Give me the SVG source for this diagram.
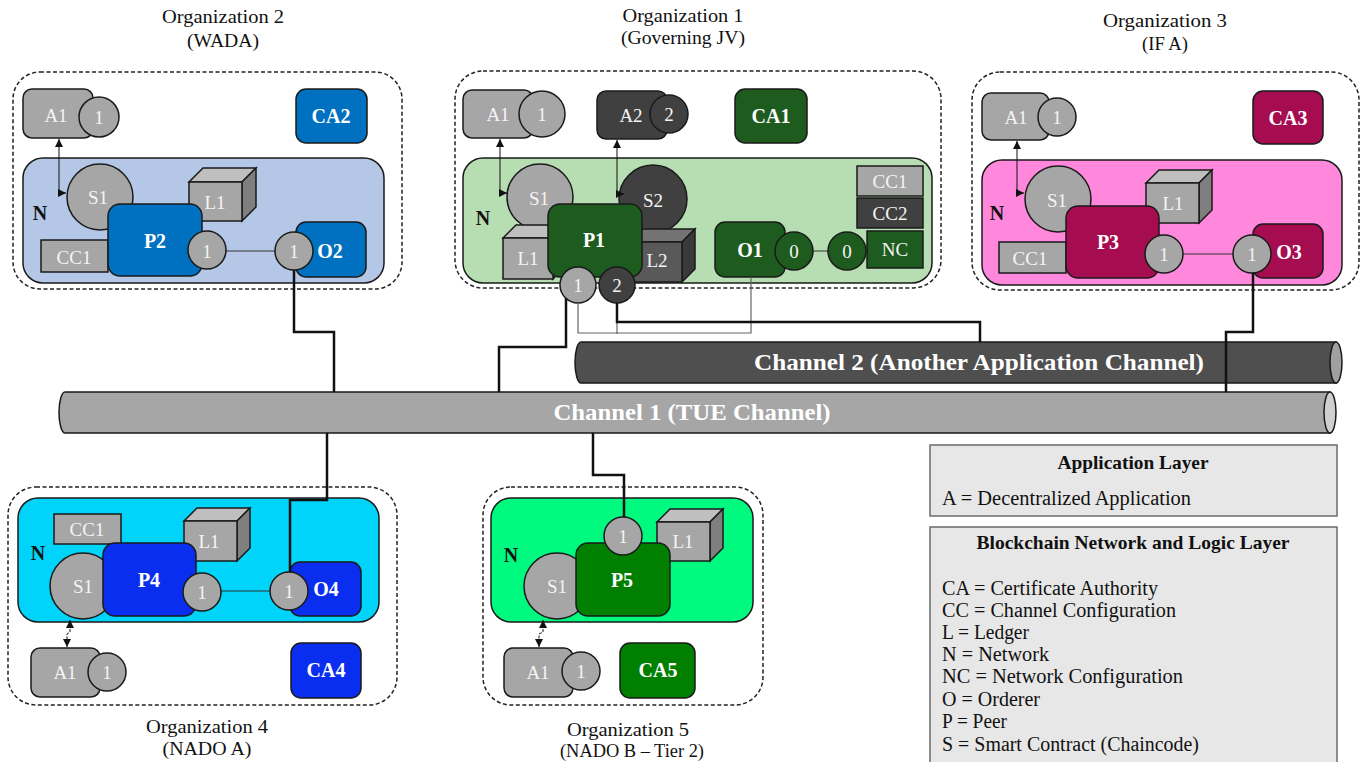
<svg xmlns="http://www.w3.org/2000/svg" width="1363" height="762" viewBox="0 0 1363 762">
<style>
text{font-family:"Liberation Serif","Times New Roman",serif}
.lb{fill:#f4f4f4;font-size:19px;text-anchor:middle;dominant-baseline:central}
.bd{font-weight:bold;font-size:20px;fill:#fff}
.nl{fill:#111;font-size:20px;font-weight:bold;text-anchor:middle;dominant-baseline:central}
.ttl{fill:#111;font-size:19px;text-anchor:middle}
.s{stroke:#1a1a1a;stroke-width:1.5}
.g{fill:#a6a6a6;stroke:#1a1a1a;stroke-width:1.5}
.gt{fill:#bfbfbf;stroke:#1a1a1a;stroke-width:1.5}
.gs{fill:#7f7f7f;stroke:#1a1a1a;stroke-width:1.5}
.dg{fill:#404040;stroke:#1a1a1a;stroke-width:1.5}
.out{fill:#fff;stroke:#222;stroke-width:1.5;stroke-dasharray:4 2.5}
.link{fill:none;stroke:#333;stroke-width:1}
.arr{fill:none;stroke:#111;stroke-width:1;marker-start:url(#ah);marker-end:url(#ah)}
.conn{fill:none;stroke:#111;stroke-width:2.5}
.thin{fill:none;stroke:#666;stroke-width:1.2}
.leg{fill:#e7e7e7;stroke:#6b6b6b;stroke-width:1.5}
.lt{fill:#111;font-size:20px}
.lh{fill:#111;font-size:19px;font-weight:bold;text-anchor:middle}
.ch{fill:#fff;font-size:24px;font-weight:bold;text-anchor:middle;dominant-baseline:central}
</style>
<defs>
<marker id="ah" viewBox="0 0 10 10" refX="10" refY="5" markerWidth="8" markerHeight="8" markerUnits="userSpaceOnUse" orient="auto-start-reverse">
<path d="M0,0 L10,5 L0,10 z" fill="#111"/>
</marker>
</defs>
<rect width="1363" height="762" fill="#fff"/>

<g id="channels">
<g id="channel2">
<path d="M581,342 L1336,342 L1336,383 L581,383 A6,20.5 0 0 1 581,342 Z" fill="#4f4f4f" class="s"/>
<ellipse cx="1336" cy="362.5" rx="6" ry="20.5" fill="#a0a0a0" class="s"/>
<text class="ch" x="979" y="362" textLength="450" lengthAdjust="spacingAndGlyphs">Channel 2 (Another Application Channel)</text>
</g>
<g id="channel1">
<path d="M65,392 L1330,392 L1330,433 L65,433 A6,20.5 0 0 1 65,392 Z" fill="#a6a6a6" class="s"/>
<ellipse cx="1330" cy="412.5" rx="6" ry="20.5" fill="#cfcfcf" class="s"/>
<text class="ch" x="692" y="412" textLength="277" lengthAdjust="spacingAndGlyphs">Channel 1 (TUE Channel)</text>
</g>
</g>

<g id="org2">
<text class="ttl" x="223" y="23" textLength="122" lengthAdjust="spacingAndGlyphs">Organization 2</text>
<text class="ttl" x="223" y="47" textLength="72" lengthAdjust="spacingAndGlyphs">(WADA)</text>
<rect class="out" x="13" y="72" width="389" height="217" rx="27"/>
<rect class="s" x="23" y="158" width="361" height="125" rx="20" fill="#b4c7e7"/>
<rect class="g" x="23" y="89" width="70" height="49" rx="9"/>
<circle class="g" cx="99" cy="117" r="20"/>
<text class="lb" x="56" y="115">A1</text><text class="lb" x="99" y="117">1</text>
<rect class="s" x="296" y="89" width="71" height="54" rx="10" fill="#0070c0"/>
<text class="lb bd" x="331" y="116">CA2</text>
<text class="nl" x="40" y="213">N</text>
<circle class="g" cx="100" cy="197" r="33"/><text class="lb" x="98" y="197">S1</text>
<polygon class="gt" points="189,182 203,168 256,168 242,182"/>
<polygon class="gs" points="242,182 256,168 256,207 242,221"/>
<rect class="g" x="189" y="182" width="53" height="39"/><text class="lb" x="215" y="202">L1</text>
<rect class="g" x="41" y="240" width="67" height="32"/><text class="lb" x="74" y="257">CC1</text>
<rect class="s" x="108" y="204" width="94" height="72" rx="12" fill="#0070c0"/>
<text class="lb bd" x="155" y="241">P2</text>
<rect class="s" x="296" y="222" width="70" height="55" rx="10" fill="#0070c0"/>
<text class="lb bd" x="330" y="251">O2</text>
<line class="link" x1="226" y1="251" x2="275" y2="251"/>
<circle class="g" cx="207" cy="250" r="19"/><text class="lb" x="207" y="251">1</text>
<circle class="g" cx="294" cy="251" r="19"/><text class="lb" x="294" y="251">1</text>
<polyline class="arr" points="66,193 59,193 59,139"/>
</g>

<g id="org1">
<text class="ttl" x="683" y="22" textLength="121" lengthAdjust="spacingAndGlyphs">Organization 1</text>
<text class="ttl" x="683" y="44" textLength="124" lengthAdjust="spacingAndGlyphs">(Governing JV)</text>
<rect class="out" x="455" y="71" width="486" height="217" rx="28"/>
<rect class="s" x="463" y="158" width="469" height="125" rx="20" fill="#b7deb3"/>
<rect class="g" x="463" y="90" width="70" height="48" rx="9"/>
<circle class="g" cx="542" cy="114" r="23"/>
<text class="lb" x="498" y="114">A1</text><text class="lb" x="542" y="114">1</text>
<rect class="dg" x="597" y="91" width="70" height="48" rx="9"/>
<circle class="dg" cx="669" cy="114" r="19"/>
<text class="lb" x="631" y="115">A2</text><text class="lb" x="669" y="114">2</text>
<rect class="s" x="735" y="89" width="72" height="54" rx="10" fill="#1e5b1e"/>
<text class="lb bd" x="771" y="116">CA1</text>
<text class="nl" x="483" y="218">N</text>
<circle class="g" cx="540" cy="197" r="33"/><text class="lb" x="539" y="198">S1</text>
<circle class="dg" cx="653" cy="199" r="34"/><text class="lb" x="653" y="200">S2</text>
<polygon class="gt" points="503,238 516,225 566,225 553,238"/>
<polygon class="gs" points="553,238 566,225 566,266 553,279"/>
<rect class="g" x="503" y="238" width="50" height="41"/><text class="lb" x="528" y="258">L1</text>
<polygon fill="#737373" class="s" points="630,242 643,229 695,229 682,242"/>
<polygon fill="#3a3a3a" class="s" points="682,242 695,229 695,269 682,282"/>
<rect fill="#595959" class="s" x="630" y="242" width="52" height="40"/><text class="lb" x="657" y="260">L2</text>
<rect class="s" x="548" y="204" width="94" height="73" rx="12" fill="#1e5b1e"/>
<text class="lb bd" x="594" y="240">P1</text>
<circle class="g" cx="578" cy="285" r="18"/><text class="lb" x="578" y="285">1</text>
<circle class="dg" cx="617" cy="285" r="18"/><text class="lb" x="617" y="285">2</text>
<rect class="s" x="715" y="222" width="70" height="55" rx="10" fill="#1e5b1e"/>
<text class="lb bd" x="750" y="250">O1</text>
<line class="link" x1="812" y1="251" x2="829" y2="251"/>
<circle class="s" cx="794" cy="251" r="19" fill="#1e5b1e"/><text class="lb" x="794" y="251">0</text>
<rect class="s" x="867" y="231" width="56" height="37" fill="#1e5b1e"/><text class="lb" x="895" y="249">NC</text>
<circle class="s" cx="847" cy="251" r="19" fill="#1e5b1e"/><text class="lb" x="847" y="251">0</text>
<rect class="g" x="857" y="166" width="66" height="30"/><text class="lb" x="890" y="181">CC1</text>
<rect class="dg" x="857" y="198" width="66" height="30"/><text class="lb" x="890" y="213">CC2</text>
<polyline class="arr" points="507,193 500,193 500,139"/>
<polyline class="arr" points="624,194 617,194 617,140"/>
</g>

<g id="org3">
<text class="ttl" x="1165" y="27" textLength="124" lengthAdjust="spacingAndGlyphs">Organization 3</text>
<text class="ttl" x="1165" y="50" textLength="46" lengthAdjust="spacingAndGlyphs">(IF A)</text>
<rect class="out" x="972" y="72" width="387" height="218" rx="28"/>
<rect class="s" x="982" y="160" width="360" height="125" rx="20" fill="#ff88dc"/>
<rect class="g" x="982" y="93" width="67" height="47" rx="9"/>
<circle class="g" cx="1057" cy="117" r="19"/>
<text class="lb" x="1016" y="117">A1</text><text class="lb" x="1057" y="117">1</text>
<rect class="s" x="1253" y="91" width="70" height="53" rx="10" fill="#a50d50"/>
<text class="lb bd" x="1288" y="118">CA3</text>
<text class="nl" x="997" y="213">N</text>
<circle class="g" cx="1058" cy="199" r="33"/><text class="lb" x="1057" y="200">S1</text>
<polygon class="gt" points="1146,183 1159,170 1212,170 1199,183"/>
<polygon class="gs" points="1199,183 1212,170 1212,210 1199,223"/>
<rect class="g" x="1146" y="183" width="53" height="40"/><text class="lb" x="1173" y="203">L1</text>
<rect class="g" x="999" y="242" width="67" height="31"/><text class="lb" x="1030" y="258">CC1</text>
<rect class="s" x="1066" y="206" width="93" height="72" rx="12" fill="#a50d50"/>
<text class="lb bd" x="1108" y="242">P3</text>
<rect class="s" x="1253" y="224" width="70" height="54" rx="10" fill="#a50d50"/>
<text class="lb bd" x="1289" y="252">O3</text>
<line class="link" x1="1183" y1="254" x2="1233" y2="254"/>
<circle class="g" cx="1164" cy="254" r="19"/><text class="lb" x="1164" y="254">1</text>
<circle class="g" cx="1252" cy="254" r="19"/><text class="lb" x="1252" y="254">1</text>
<polyline class="arr" points="1024,193 1017,193 1017,141"/>
</g>

<g id="org4">
<rect class="out" x="8" y="487" width="389" height="218" rx="28"/>
<rect class="s" x="18" y="498" width="361" height="124" rx="20" fill="#00d4fb"/>
<rect class="g" x="54" y="514" width="67" height="30"/><text class="lb" x="87" y="529">CC1</text>
<polygon class="gt" points="184,521 197,508 250,508 237,521"/>
<polygon class="gs" points="237,521 250,508 250,548 237,561"/>
<rect class="g" x="184" y="521" width="53" height="40"/><text class="lb" x="209" y="541">L1</text>
<text class="nl" x="38" y="553">N</text>
<circle class="g" cx="83" cy="586" r="33"/><text class="lb" x="83" y="586">S1</text>
<rect class="s" x="103" y="543" width="93" height="73" rx="12" fill="#0a2ef0"/>
<text class="lb bd" x="149" y="580">P4</text>
<rect class="s" x="290" y="562" width="71" height="54" rx="10" fill="#0a2ef0"/>
<text class="lb bd" x="326" y="589">O4</text>
<line class="link" x1="221" y1="591" x2="270" y2="591"/>
<circle class="g" cx="202" cy="592" r="19"/><text class="lb" x="202" y="592">1</text>
<circle class="g" cx="289" cy="591" r="19"/><text class="lb" x="289" y="591">1</text>
<rect class="g" x="31" y="648" width="69" height="49" rx="9"/>
<circle class="g" cx="107" cy="672" r="19"/>
<text class="lb" x="65" y="672">A1</text><text class="lb" x="107" y="672">1</text>
<rect class="s" x="291" y="643" width="70" height="55" rx="10" fill="#0a2ef0"/>
<text class="lb bd" x="326" y="670">CA4</text>
<polyline class="arr" points="70,620 70,632 67,634 67,647" stroke-dasharray="3 1.5"/>
<text class="ttl" x="207" y="733" textLength="122" lengthAdjust="spacingAndGlyphs">Organization 4</text>
<text class="ttl" x="207" y="755" textLength="89" lengthAdjust="spacingAndGlyphs">(NADO A)</text>
</g>

<g id="org5">
<rect class="out" x="483" y="487" width="280" height="218" rx="28"/>
<rect class="s" x="491" y="498" width="262" height="124" rx="20" fill="#00fa80"/>
<polygon class="gt" points="657,522 670,509 723,509 710,522"/>
<polygon class="gs" points="710,522 723,509 723,548 710,561"/>
<rect class="g" x="657" y="522" width="53" height="39"/><text class="lb" x="683" y="541">L1</text>
<text class="nl" x="511" y="555">N</text>
<circle class="g" cx="557" cy="586" r="33"/><text class="lb" x="557" y="586">S1</text>
<rect class="s" x="576" y="543" width="94" height="73" rx="12" fill="#007f00"/>
<text class="lb bd" x="622" y="580">P5</text>
<circle class="g" cx="623" cy="536" r="19"/><text class="lb" x="623" y="536">1</text>
<rect class="g" x="504" y="648" width="69" height="49" rx="9"/>
<circle class="g" cx="581" cy="671" r="19"/>
<text class="lb" x="538" y="672">A1</text><text class="lb" x="581" y="671">1</text>
<rect class="s" x="620" y="643" width="75" height="55" rx="10" fill="#007f00"/>
<text class="lb bd" x="658" y="670">CA5</text>
<polyline class="arr" points="543,620 543,632 539,634 539,647" stroke-dasharray="3 1.5"/>
<text class="ttl" x="628" y="736" textLength="122" lengthAdjust="spacingAndGlyphs">Organization 5</text>
<text class="ttl" x="632" y="757" textLength="144" lengthAdjust="spacingAndGlyphs">(NADO B – Tier 2)</text>
</g>

<g id="connectors">
<polyline class="conn" points="294,270 294,332 334,332 334,392"/>
<polyline class="thin" points="578,303 578,333 751,333 751,277"/>
<polyline class="thin" points="617,322 617,334"/>
<polyline class="conn" points="566,298 566,347 499,347 499,392"/>
<polyline class="conn" points="617,303 617,322 980,322 980,342"/>
<polyline class="conn" points="1253,273 1253,332 1226,332 1226,392"/>
<polyline class="conn" points="327,433 327,500 290,500 290,572"/>
<polyline class="conn" points="593,433 593,475 624,475 624,517"/>
</g>

<g id="legend">
<rect class="leg" x="930" y="445" width="407" height="71"/>
<text class="lh" x="1133" y="469" textLength="151" lengthAdjust="spacingAndGlyphs">Application Layer</text>
<text class="lt" x="942" y="505" textLength="249" lengthAdjust="spacingAndGlyphs">A = Decentralized Application</text>
<rect class="leg" x="930" y="527" width="407" height="245"/>
<text class="lh" x="1133" y="549" textLength="313" lengthAdjust="spacingAndGlyphs">Blockchain Network and Logic Layer</text>
<text class="lt" x="942" y="595" textLength="216" lengthAdjust="spacingAndGlyphs">CA = Certificate Authority</text>
<text class="lt" x="942" y="617" textLength="234" lengthAdjust="spacingAndGlyphs">CC = Channel Configuration</text>
<text class="lt" x="942" y="639" textLength="87" lengthAdjust="spacingAndGlyphs">L = Ledger</text>
<text class="lt" x="942" y="661" textLength="107" lengthAdjust="spacingAndGlyphs">N = Network</text>
<text class="lt" x="942" y="683" textLength="241" lengthAdjust="spacingAndGlyphs">NC = Network Configuration</text>
<text class="lt" x="942" y="706" textLength="98" lengthAdjust="spacingAndGlyphs">O = Orderer</text>
<text class="lt" x="942" y="728" textLength="65" lengthAdjust="spacingAndGlyphs">P = Peer</text>
<text class="lt" x="942" y="751" textLength="257" lengthAdjust="spacingAndGlyphs">S = Smart Contract (Chaincode)</text>
</g>
</svg>
